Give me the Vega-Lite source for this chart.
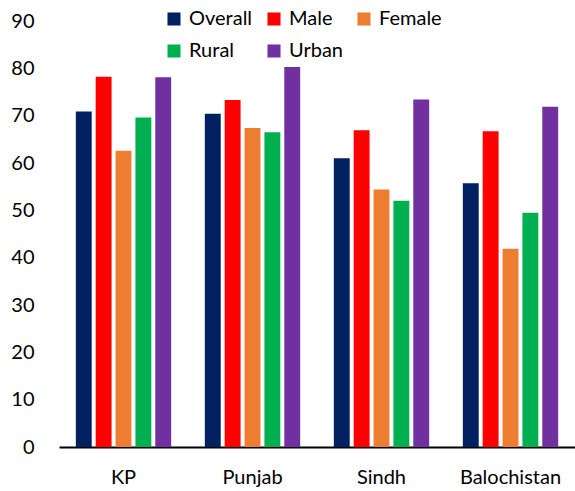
{
  "$schema": "https://vega.github.io/schema/vega-lite/v6.json",
  "width": 516,
  "height": 426,
  "autosize": "none",
  "padding": {"left": 59, "top": 21, "right": 0, "bottom": 44},
  "background": "white",
  "config": {
    "view": {"stroke": null},
    "font": "Lato"
  },
  "data": {
    "values": [
      {"region": "KP", "group": "Overall", "value": 70.9},
      {"region": "KP", "group": "Male", "value": 78.2},
      {"region": "KP", "group": "Female", "value": 62.6},
      {"region": "KP", "group": "Rural", "value": 69.6},
      {"region": "KP", "group": "Urban", "value": 78.1},
      {"region": "Punjab", "group": "Overall", "value": 70.4},
      {"region": "Punjab", "group": "Male", "value": 73.3},
      {"region": "Punjab", "group": "Female", "value": 67.4},
      {"region": "Punjab", "group": "Rural", "value": 66.5},
      {"region": "Punjab", "group": "Urban", "value": 80.3},
      {"region": "Sindh", "group": "Overall", "value": 61.0},
      {"region": "Sindh", "group": "Male", "value": 66.9},
      {"region": "Sindh", "group": "Female", "value": 54.4},
      {"region": "Sindh", "group": "Rural", "value": 52.0},
      {"region": "Sindh", "group": "Urban", "value": 73.4},
      {"region": "Balochistan", "group": "Overall", "value": 55.7},
      {"region": "Balochistan", "group": "Male", "value": 66.7},
      {"region": "Balochistan", "group": "Female", "value": 41.9},
      {"region": "Balochistan", "group": "Rural", "value": 49.5},
      {"region": "Balochistan", "group": "Urban", "value": 71.9}
    ]
  },
  "mark": {"type": "bar"},
  "encoding": {
    "x": {
      "field": "region",
      "type": "nominal",
      "sort": ["KP", "Punjab", "Sindh", "Balochistan"],
      "scale": {"paddingInner": 0.23, "paddingOuter": 0.115},
      "axis": {
        "title": null,
        "labelAngle": 0,
        "ticks": false,
        "domainColor": "black",
        "domainWidth": 2,
        "labelFontSize": 20,
        "labelColor": "black",
        "labelPadding": 20
      }
    },
    "xOffset": {
      "field": "group",
      "type": "nominal",
      "sort": ["Overall", "Male", "Female", "Rural", "Urban"],
      "scale": {"paddingInner": 0.2, "paddingOuter": 0.1}
    },
    "y": {
      "field": "value",
      "type": "quantitative",
      "scale": {"domain": [0, 90], "nice": false},
      "axis": {
        "title": null,
        "values": [0, 10, 20, 30, 40, 50, 60, 70, 80, 90],
        "grid": false,
        "ticks": false,
        "domain": false,
        "labelFontSize": 20,
        "labelColor": "black",
        "labelPadding": 25
      }
    },
    "color": {
      "field": "group",
      "type": "nominal",
      "sort": ["Overall", "Male", "Female", "Rural", "Urban"],
      "scale": {
        "domain": ["Overall", "Male", "Female", "Rural", "Urban"],
        "range": ["#002060", "#FF0000", "#ED7D31", "#00B050", "#7030A0"]
      },
      "legend": {
        "title": null,
        "orient": "none",
        "legendX": 105,
        "legendY": -12,
        "direction": "horizontal",
        "columns": 3,
        "symbolType": "square",
        "symbolSize": 170,
        "symbolStrokeWidth": 0,
        "labelFontSize": 20,
        "labelColor": "black",
        "labelOffset": 5,
        "columnPadding": 11,
        "rowPadding": 12
      }
    }
  }
}
